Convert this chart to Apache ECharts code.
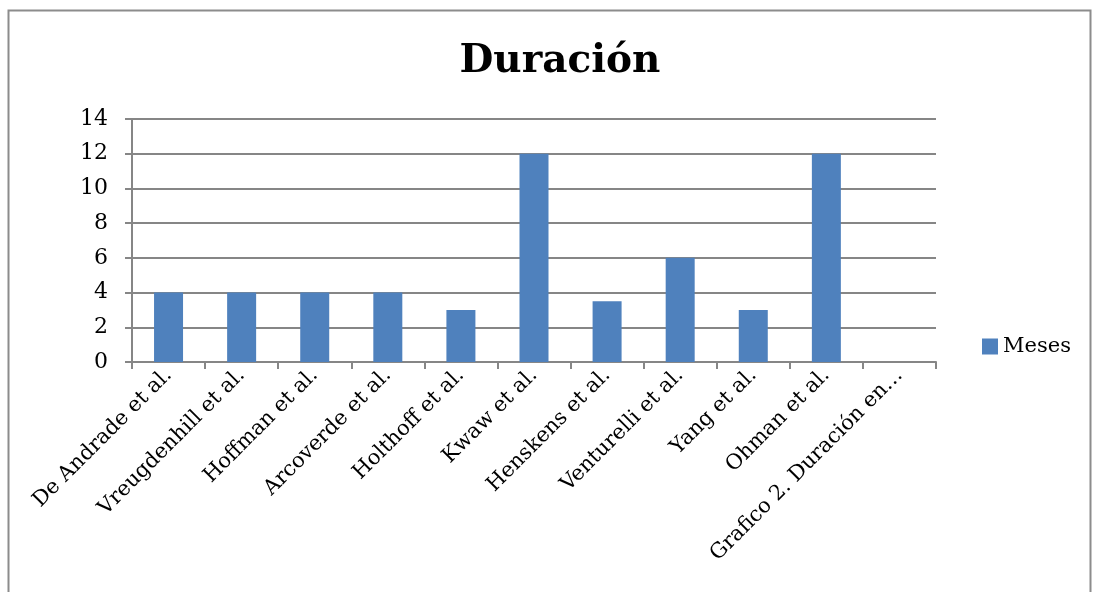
<!DOCTYPE html>
<html>
<head>
<meta charset="utf-8">
<script src="https://cdn.jsdelivr.net/npm/echarts@6/dist/echarts.min.js"></script>
<style>html,body{margin:0;padding:0;background:#fff;}#c{width:1094px;height:592px;}</style>
</head>
<body>
<div id="c"></div>
<script>
var categories = ['De Andrade et al.', 'Vreugdenhill et al.', 'Hoffman et al.', 'Arcoverde et al.', 'Holthoff et al.', 'Kwaw et al.', 'Henskens et al.', 'Venturelli et al.', 'Yang et al.', 'Ohman et al.', 'Grafico 2. Duración en…'];
var meses = [4, 4, 4, 4, 3, 12, 3.5, 6, 3, 12, null];
var yTicks = [0, 2, 4, 6, 8, 10, 12, 14];

var chart = echarts.init(document.getElementById('c'));
var serif = '"DejaVu Serif", "Liberation Serif", serif';
chart.setOption({
  animation: false,
  backgroundColor: '#fff',
  graphic: [{
    type: 'rect', left: 6, top: 8,
    shape: { width: 1082, height: 600 },
    style: { fill: 'none', stroke: '#8c8c8c', lineWidth: 2 }
  }],
  title: {
    text: 'Duración', left: 555, top: 37, textAlign: 'center',
    textStyle: { fontFamily: serif, fontWeight: 'bold', fontSize: 39, color: '#000' }
  },
  legend: {
    data: ['Meses'], orient: 'vertical', left: 977, top: 331,
    icon: 'rect', itemWidth: 16, itemHeight: 16, itemGap: 8,
    textStyle: { fontFamily: serif, fontSize: 21, color: '#000' }
  },
  grid: { left: 132, right: 158, top: 119, bottom: 230, containLabel: false },
  xAxis: {
    type: 'category', data: categories,
    axisLine: { lineStyle: { color: '#868686', width: 2 } },
    axisTick: { show: true, length: 7, alignWithLabel: false, lineStyle: { color: '#868686', width: 2 } },
    axisLabel: { rotate: 45, interval: 0, margin: 10, fontFamily: serif, fontSize: 21, color: '#000' }
  },
  yAxis: {
    type: 'value', min: 0, max: 14, interval: 2,
    axisLine: { show: true, lineStyle: { color: '#868686', width: 2 } },
    axisTick: { show: true, length: 7, lineStyle: { color: '#868686', width: 2 } },
    splitLine: { lineStyle: { color: '#868686', width: 2 } },
    axisLabel: {
      margin: 24, fontFamily: serif, fontSize: 22, color: '#000',
      formatter: function (v) { return yTicks.indexOf(v) >= 0 ? String(v) : ''; }
    }
  },
  series: [{
    name: 'Meses', type: 'bar', data: meses, barWidth: 29,
    itemStyle: { color: '#4F81BD' }
  }]
});
</script>
</body>
</html>
